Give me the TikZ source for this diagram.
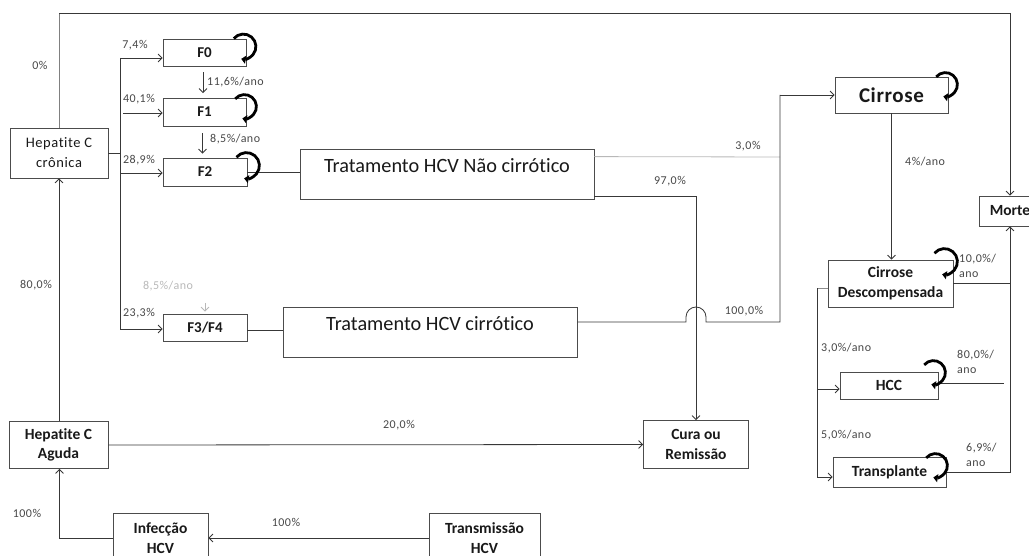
\documentclass[tikz,border=0pt]{standalone}
\usepackage{fontspec}
\setmainfont[Ligatures=NoCommon]{Carlito}
\newfontfamily\spaced[LetterSpace=4,Ligatures=NoCommon]{Carlito}
\newfontfamily\wide[LetterSpace=3,Ligatures=NoCommon]{Carlito}
\usetikzlibrary{arrows.meta,calc}

\tikzset{
  box/.style={draw=black!70, line width=0.8pt, fill=white, inner sep=2pt,
    align=center, text=black!90},
  lbox/.style={box, font=\bfseries\fontsize{15.5}{19.5}\selectfont},
  fbox/.style={box, minimum width=83pt, minimum height=27pt,
    font=\bfseries\fontsize{15}{16}\selectfont},
  tbox/.style={box, minimum width=294pt, inner ysep=3pt, text height=20.5pt,
    text depth=23.5pt, font=\fontsize{20.3}{22}\selectfont},
  conn/.style={draw=black!78, line width=0.8pt},
  faint/.style={conn, draw=black!28},
  arr/.style={conn, -{Straight Barb[length=4pt,width=8pt]}},
  pct/.style={font=\spaced\fontsize{12}{14.5}\selectfont, text=black!72,
    inner sep=0pt, align=left},
  selfloop/.style={draw=black, line width=2.8pt,
    -{Triangle[length=4.5pt,width=8pt]}},
}

\begin{document}
\begin{tikzpicture}[x=1pt,y=-1pt]
\useasboundingbox (0,0) rectangle (1029,556);

% ---------- states ----------
\node[box, minimum width=98pt, minimum height=50pt,
  font=\spaced\fontsize{14.5}{20}\selectfont] (cron) at (59,153) {Hepatite C\\crônica};
\node[fbox] (F0) at (204.5,52.5) {F0};
\node[fbox, minimum height=28pt] (F1) at (204.5,112) {F1};
\node[fbox, minimum width=84pt, minimum height=28pt] (F2) at (205,172) {F2};
\node[fbox, minimum width=84pt] (F34) at (205,327.5) {F3/F4};
\node[tbox] (TNC) at (447,174) {Tratamento HCV Não cirrótico};
\node[tbox] (TC) at (430,332) {Tratamento HCV cirrótico};
\node[box, minimum width=113pt, minimum height=36pt,
  font=\wide\bfseries\fontsize{21}{22}\selectfont] (Cirrose) at (891.5,95) {Cirrose};
\node[lbox, minimum width=62pt, minimum height=30pt] (Morte) at (1010,211) {Morte};
\node[lbox, minimum width=125pt, minimum height=47pt] (CD) at (890.5,283.5) {Cirrose\\Descompensada};
\node[lbox, minimum width=98pt, minimum height=27pt] (HCC) at (889,385.5) {HCC};
\node[lbox, minimum width=113pt, minimum height=30pt] (Transp) at (889.5,472) {Transplante};
\node[lbox, minimum width=105pt, minimum height=48pt] (Cura) at (696,444.5) {Cura ou\\Remissão};
\node[lbox, minimum width=99pt, minimum height=47pt] (Aguda) at (58.5,445) {Hepatite C\\Aguda};
\node[lbox, minimum width=95pt, minimum height=50pt] (Infec) at (160.5,538) {Infecção\\HCV};
\node[lbox, minimum width=111pt, minimum height=50pt] (Transm) at (484.5,538) {Transmissão\\HCV};

% ---------- chronic hepatitis: death branch over the top ----------
\coordinate (topL) at (59,13);
\coordinate (topR) at (1010,13);
\draw[conn, draw=black!50] (cron.north) -- (topL);
\draw[arr] (topL) -- (topR) -- (Morte.north);
\node[pct] at (40,65) {0\%};

% ---------- fibrosis distribution ----------
\coordinate (tkA) at (120,58);
\coordinate (tkB) at (120,153);
\coordinate (tkC) at (120,173);
\coordinate (tkD) at (120,329);
\coordinate (tkF1) at (123,113);
\draw[conn] (cron.east) -- (tkB);
\draw[conn] (tkA) -- (tkD);
\draw[arr] (tkA) -- ([yshift=-5.5pt]F0.west);
\draw[arr] (tkF1) -- ([yshift=-1pt]F1.west);
\draw[arr] (tkC) -- ([yshift=-1pt]F2.west);
\draw[arr] (tkD) -- ([yshift=-1.5pt]F34.west);
\node[pct] at (135,45) {7,4\%};
\node[pct] at (139,99) {40,1\%};
\node[pct] at (139,160) {28,9\%};
\node[pct] at (139,313) {23,3\%};

% ---------- progression between stages ----------
\draw[arr, shorten <=6pt, shorten >=4.5pt] ([xshift=-1.5pt]F0.south) -- ([xshift=-1.5pt]F1.north);
\node[pct, anchor=west] at (207,82) {11,6\%/ano};
\draw[arr, shorten <=7pt, shorten >=4pt] ([xshift=-2pt]F1.south) -- ([xshift=-2pt]F1.south |- F2.north);
\node[pct, anchor=west] at (210,139) {8,5\%/ano};
\coordinate (gF34) at (205,303);
\node[pct, text=black!28] at (168,286) {8,5\%/ano};
\draw[arr, draw=black!28, shorten >=2pt] (gF34) -- (F34.north);

% ---------- treatment ----------
\draw[conn] (F2.east) -- (F2.east -| TNC.west);
\draw[conn] ([yshift=-3pt]F34.east) -- ([yshift=-3pt]F34.east -| TC.west);

\coordinate (j3) at (780,157);
\coordinate (jC) at (780,95);
\draw[faint] ([yshift=-8pt]TNC.north east) -- (j3);
\node[pct] at (748,146) {3,0\%};

\coordinate (hump) at (686,322);
\draw[conn] ([yshift=10pt]TC.east) -- (hump) -- ++(0,-5)
  arc[start angle=180, end angle=360, radius=10] -- ++(0,5) -- (780,322) -- (jC);
\draw[arr] (jC) -- (Cirrose.west);
\node[pct] at (744,311) {100,0\%};

\draw[arr] ([yshift=3pt]TNC.south east) -| (Cura.north);
\node[pct] at (670,181) {97,0\%};

% ---------- acute hepatitis ----------
\draw[arr] (Aguda.east) -- (Cura.west);
\node[pct] at (399,425) {20,0\%};
\draw[arr] (cron.south |- Aguda.north) -- (cron.south);
\node[pct] at (36,285) {80,0\%};
\draw[arr] (Infec.west) -| ([xshift=1pt]Aguda.south);
\node[pct] at (27,513) {100\%};
\draw[arr] (Transm.west) -- (Infec.east);
\node[pct] at (286,522) {100\%};

% ---------- cirrhosis branch ----------
\draw[arr] (Cirrose.south) -- (Cirrose.south |- CD.north);
\node[pct, anchor=west] at (905,162) {4\%/ano};

\coordinate (cdl) at (817,288.5);
\draw[conn, draw=black!45] ([yshift=-5pt]CD.west) -- (cdl);
\draw[arr] (cdl) |- ([yshift=-3.5pt]HCC.west);
\draw[arr] (cdl) |- ([yshift=-5pt]Transp.west);
\node[pct, anchor=west] at (821,348) {3,0\%/ano};
\node[pct, anchor=west] at (821,435) {5,0\%/ano};

% ---------- mortality ----------
\draw[arr] (Transp.east) -| (Morte.south);
\draw[conn] (CD.east) -- (CD.east -| Morte.south);
\draw[conn] ([yshift=2.5pt]HCC.east) -- ++(66,0);
\node[pct, anchor=north west] at (959,254) {10,0\%/\\ano};
\node[pct, anchor=north west] at (957,350) {80,0\%/\\ano};
\node[pct, anchor=north west] at (966,443) {6,9\%/\\ano};

% ---------- staying in the same state ----------
\foreach \n/\dx/\dy/\r in {F0/-3/8/12.5, F1/-2/9/12, F2/-1/8/13, Cirrose/-3/8/12,
    CD/-9/2/13, HCC/-5/1/12, Transp/-11/9/12}{
  \draw[selfloop] ([shift={(\dx,\dy)}]\n.north east) ++(-140:\r)
    arc[start angle=-140, end angle=100, radius=\r];
}
\end{tikzpicture}
\end{document}
